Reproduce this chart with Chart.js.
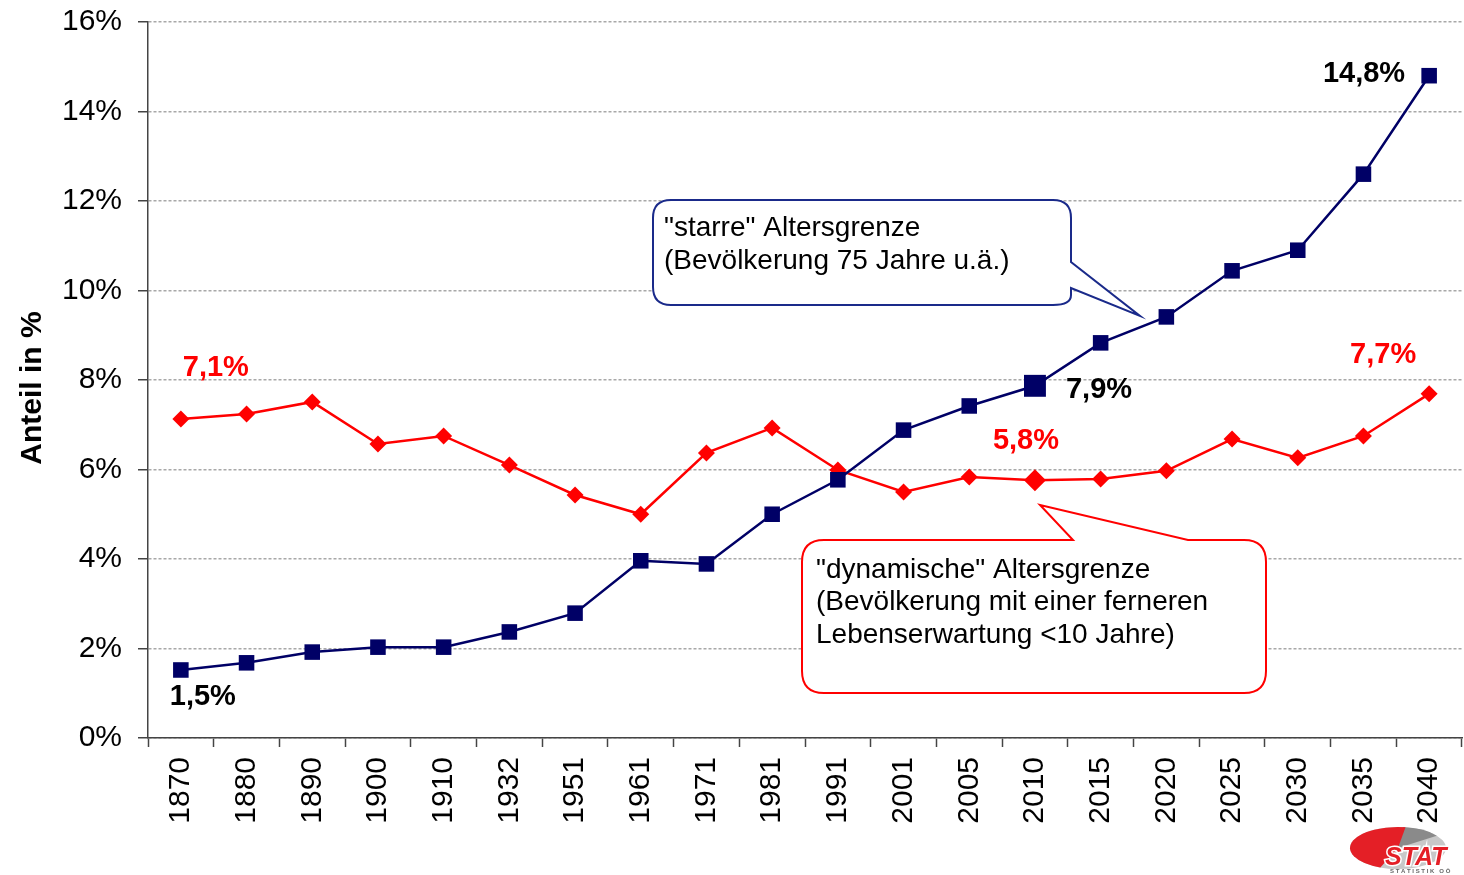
<!DOCTYPE html>
<html>
<head>
<meta charset="utf-8">
<script src="https://cdn.jsdelivr.net/npm/chart.js@4.4.0/dist/chart.umd.min.js"></script>
<style>
html,body{margin:0;padding:0;background:#fff;}
#wrap{width:1464px;height:875px;position:relative;}
</style>
</head>
<body>
<div id="wrap"><canvas id="c" width="1464" height="875"></canvas></div>
<script>
// ---- data ----
const years = ['1870','1880','1890','1900','1910','1932','1951','1961','1971','1981','1991','2001','2005','2010','2015','2020','2025','2030','2035','2040'];
const starreValues = [1.52,1.68,1.92,2.03,2.03,2.37,2.79,3.96,3.89,5.00,5.77,6.88,7.42,7.87,8.83,9.41,10.44,10.90,12.60,14.80];
const dynamischeValues = [7.13,7.24,7.51,6.57,6.75,6.10,5.43,5.00,6.37,6.93,5.99,5.50,5.83,5.76,5.79,5.97,6.68,6.26,6.75,7.69];
const yTickValues = [0,2,4,6,8,10,12,14,16];
const seriesNames = ['"starre" Altersgrenze','"dynamische" Altersgrenze'];
const callout1Lines = ['"starre" Altersgrenze','(Bevölkerung 75 Jahre u.ä.)'];
const callout2Lines = ['"dynamische" Altersgrenze','(Bevölkerung mit einer ferneren','Lebenserwartung <10 Jahre)'];
const yTitle = 'Anteil in %';

const FONT = '"Liberation Sans", Arial, Helvetica, sans-serif';
const NAVY = '#000066';
const RED = '#ff0000';
const HL = years.indexOf('2010');

const fmt = v => v.toFixed(1).replace('.', ',') + '%';

const pointLabels = [
  {ds:0, idx:0,  dx:22,  dy:27,  align:'center', color:'#000'},
  {ds:0, idx:HL, dx:31,  dy:4,   align:'left',   color:'#000'},
  {ds:0, idx:19, dx:-24, dy:-2,  align:'right',  color:'#000'},
  {ds:1, idx:0,  dx:35,  dy:-51, align:'center', color:RED},
  {ds:1, idx:HL, dx:-9,  dy:-39, align:'center', color:RED},
  {ds:1, idx:19, dx:-46, dy:-39, align:'center', color:RED}
];

const zeroPad = () => ({ left: 0, top: 0, right: 0, bottom: 0 });

const decorPlugin = {
  id: 'decor',
  afterDatasetsDraw(chart) {
    const ctx = chart.ctx;
    ctx.save();
    {
      const x = 653, y = 200, w = 418, h = 105, r = 18;
      ctx.beginPath();
      ctx.moveTo(x + r, y);
      ctx.lineTo(x + w - r, y);
      ctx.quadraticCurveTo(x + w, y, x + w, y + r);
      ctx.lineTo(x + w, y + 62);
      ctx.lineTo(1140, 316);
      ctx.lineTo(x + w, y + 88);
      ctx.lineTo(x + w, y + h - r + 8);
      ctx.quadraticCurveTo(x + w, y + h, x + w - r, y + h);
      ctx.lineTo(x + r, y + h);
      ctx.quadraticCurveTo(x, y + h, x, y + h - r);
      ctx.lineTo(x, y + r);
      ctx.quadraticCurveTo(x, y, x + r, y);
      ctx.closePath();
      ctx.fillStyle = '#fff';
      ctx.fill();
      ctx.lineWidth = 2;
      ctx.strokeStyle = '#1a2a8a';
      ctx.stroke();
      ctx.fillStyle = '#000';
      ctx.font = '28px ' + FONT;
      ctx.textAlign = 'left';
      ctx.textBaseline = 'middle';
      callout1Lines.forEach((t, i) => ctx.fillText(t, 664, 228 + i * 33));
    }
    {
      const x = 802, y = 540, w = 464, h = 153, r = 22;
      ctx.beginPath();
      ctx.moveTo(x + r, y);
      ctx.lineTo(1073, y);
      ctx.lineTo(1040, 505);
      ctx.lineTo(1188, y);
      ctx.lineTo(x + w - r, y);
      ctx.quadraticCurveTo(x + w, y, x + w, y + r);
      ctx.lineTo(x + w, y + h - r);
      ctx.quadraticCurveTo(x + w, y + h, x + w - r, y + h);
      ctx.lineTo(x + r, y + h);
      ctx.quadraticCurveTo(x, y + h, x, y + h - r);
      ctx.lineTo(x, y + r);
      ctx.quadraticCurveTo(x, y, x + r, y);
      ctx.closePath();
      ctx.fillStyle = '#fff';
      ctx.fill();
      ctx.lineWidth = 2;
      ctx.strokeStyle = RED;
      ctx.stroke();
      ctx.fillStyle = '#000';
      ctx.font = '28px ' + FONT;
      ctx.textAlign = 'left';
      ctx.textBaseline = 'middle';
      callout2Lines.forEach((t, i) => ctx.fillText(t, 816, 570 + i * 32.5));
    }
    ctx.font = 'bold 29px ' + FONT;
    ctx.textBaseline = 'middle';
    pointLabels.forEach(l => {
      const meta = chart.getDatasetMeta(l.ds);
      const pt = meta.data[l.idx];
      const v = chart.data.datasets[l.ds].data[l.idx];
      ctx.fillStyle = l.color;
      ctx.textAlign = l.align;
      ctx.fillText(fmt(v), pt.x + l.dx, pt.y + l.dy);
    });
    ctx.restore();
  },
  afterDraw(chart) {
    const ctx = chart.ctx;
    ctx.save();
    // y axis title
    ctx.translate(33, 388);
    ctx.rotate(-Math.PI / 2);
    ctx.font = 'bold 30px ' + FONT;
    ctx.fillStyle = '#000';
    ctx.textAlign = 'center';
    ctx.textBaseline = 'middle';
    ctx.fillText(yTitle, 0, 0);
    ctx.restore();
    ctx.save();
    // STAT logo
    const cx = 1398, cy = 848, rx = 48, ry = 21;
    ctx.beginPath();
    ctx.ellipse(cx, cy, rx, ry, 0, 0, Math.PI * 2);
    ctx.fillStyle = '#c8c8c8';
    ctx.fill();
    ctx.beginPath();
    ctx.moveTo(cx, cy);
    ctx.ellipse(cx, cy, rx, ry, 0, -Math.PI / 2 + 0.1, -Math.PI / 5);
    ctx.closePath();
    ctx.fillStyle = '#8a8a8a';
    ctx.fill();
    ctx.beginPath();
    ctx.moveTo(cx, cy);
    ctx.ellipse(cx, cy, rx, ry, 0, Math.PI * 0.62, Math.PI * 1.55);
    ctx.closePath();
    ctx.fillStyle = '#e41f26';
    ctx.fill();
    ctx.font = 'italic bold 25px ' + FONT;
    ctx.textAlign = 'left';
    ctx.textBaseline = 'alphabetic';
    ctx.lineWidth = 3;
    ctx.strokeStyle = '#fff';
    ctx.strokeText('STAT', 1385, 865);
    ctx.fillStyle = '#e41f26';
    ctx.fillText('STAT', 1385, 865);
    ctx.font = 'bold 6px ' + FONT;
    ctx.fillStyle = '#666';
    ctx.fillText('S T A T I S T I K   O Ö', 1390, 873);
    ctx.restore();
  }
};

new Chart(document.getElementById('c'), {
  type: 'line',
  data: {
    labels: years,
    datasets: [
      {
        label: seriesNames[0],
        data: starreValues,
        borderColor: NAVY,
        backgroundColor: NAVY,
        borderWidth: 2.5,
        pointStyle: 'rect',
        pointRadius: c => c.dataIndex === HL ? 15.5 : 11,
        pointBorderWidth: 0,
        tension: 0
      },
      {
        label: seriesNames[1],
        data: dynamischeValues,
        borderColor: RED,
        backgroundColor: RED,
        borderWidth: 2.5,
        pointStyle: 'rectRot',
        pointRadius: c => c.dataIndex === HL ? 11 : 8.5,
        pointBorderWidth: 0,
        tension: 0
      }
    ]
  },
  options: {
    responsive: false,
    animation: false,
    events: [],
    layout: { autoPadding: false, padding: { top: 22, right: 2, left: 0, bottom: 0 } },
    plugins: { legend: { display: false }, tooltip: { enabled: false } },
    scales: {
      x: {
        offset: true,
        grid: {
          offset: true,
          drawOnChartArea: false,
          drawTicks: true,
          tickLength: 9,
          tickColor: '#444',
          tickWidth: 1.5
        },
        border: { display: true, color: '#444', width: 1.5 },
        ticks: {
          color: '#000',
          font: { family: FONT, size: 30 },
          minRotation: 90,
          maxRotation: 90,
          padding: 10,
          autoSkip: false
        },
        afterFit: s => { s.height = 137; s.paddingLeft = 0; s.paddingRight = 0; s.getPadding = zeroPad; }
      },
      y: {
        min: 0,
        max: 16,
        afterBuildTicks: s => { s.ticks = yTickValues.map(v => ({ value: v })); },
        grid: {
          color: '#a8a8a8',
          lineWidth: 1.5,
          tickLength: 10,
          tickColor: '#444',
          tickWidth: 1.5
        },
        border: { display: true, color: '#444', width: 1.5, dash: [3, 2] },
        ticks: {
          color: '#000',
          font: { family: FONT, size: 30 },
          padding: 16,
          callback: v => v + '%'
        },
        title: { display: false },
        afterFit: s => { s.width = 148; s.paddingTop = 0; s.paddingBottom = 0; s.getPadding = zeroPad; }
      }
    }
  },
  plugins: [decorPlugin]
});
</script>
</body>
</html>
